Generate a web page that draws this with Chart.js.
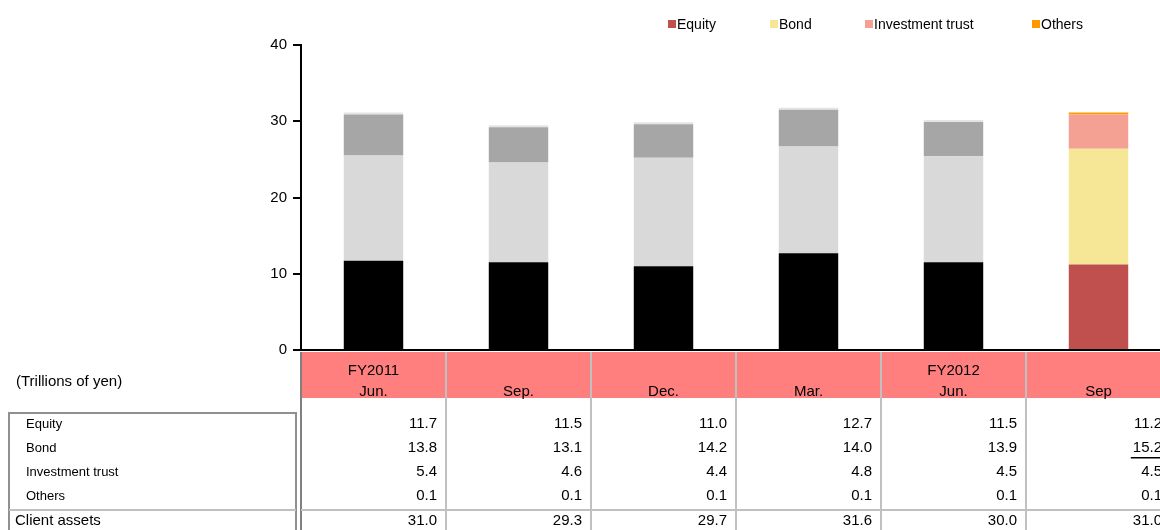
<!DOCTYPE html>
<html><head><meta charset="utf-8">
<script src="https://cdn.jsdelivr.net/npm/chart.js@4/dist/chart.umd.min.js"></script>
<style>html,body{margin:0;padding:0;background:#fff;overflow:hidden;width:1160px;height:530px}</style>
</head><body>
<canvas id="c" width="1180" height="530"></canvas>
<script>
const headerTop = ['FY2011','','','','FY2012',''];
const headerBottom = ['Jun.','Sep.','Dec.','Mar.','Jun.','Sep'];
const seriesNames = ['Equity','Bond','Investment trust','Others'];
const equity = [11.7,11.5,11.0,12.7,11.5,11.2];
const bond = [13.8,13.1,14.2,14.0,13.9,15.2];
const investmentTrust = [5.4,4.6,4.4,4.8,4.5,4.5];
const others = [0.1,0.1,0.1,0.1,0.1,0.1];
const clientAssets = [31.0,29.3,29.7,31.6,30.0,31.0];
const yTicks = [0,10,20,30,40];
const greyColors = ['#000000','#d9d9d9','#a6a6a6','#e4e4e4'];
const accentColors = ['#c0504d','#f6e797','#f4a193','#ff9900'];
const underlined = {bond:[5], total:[5]};

const FONT = '"Liberation Sans", Arial, sans-serif';
const seriesValues = [equity,bond,investmentTrust,others];
function colorsFor(i){ return headerBottom.map((_,k)=> k===headerBottom.length-1 ? accentColors[i] : greyColors[i]); }

const tablePlugin = {
  id:'tablePlugin',
  afterDraw(chart){
    const ctx = chart.ctx, x = chart.scales.x;
    const half = (x.getPixelForValue(1)-x.getPixelForValue(0))/2;
    ctx.save();
    // legend
    ctx.font = '14px '+FONT; ctx.textBaseline='middle'; ctx.textAlign='left';
    const legX = [668,770,865,1032];
    seriesNames.forEach((n,i)=>{
      ctx.fillStyle = accentColors[i]; ctx.fillRect(legX[i],20,8,8);
      ctx.fillStyle = '#000'; ctx.fillText(n, legX[i]+9, 25);
    });
    // header
    const hTop=352, hBot=398;
    headerBottom.forEach((lab,k)=>{
      const cx = x.getPixelForValue(k), l=cx-half, r=cx+half;
      ctx.fillStyle='#ff7f7f'; ctx.fillRect(l,hTop,r-l,hBot-hTop);
      ctx.fillStyle='#000'; ctx.font='15px '+FONT; ctx.textAlign='center';
      if(headerTop[k]) ctx.fillText(headerTop[k], cx, 371);
      ctx.fillText(lab, cx, 392);
    });
    // column separators
    ctx.strokeStyle='#c0c0c0'; ctx.lineWidth=2;
    for(let k=1;k<headerBottom.length;k++){
      const bx = x.getPixelForValue(k)-half;
      ctx.beginPath(); ctx.moveTo(bx,hTop); ctx.lineTo(bx,530); ctx.stroke();
    }
    // left border of data area
    const left0 = x.getPixelForValue(0)-half;
    ctx.strokeStyle='#808080'; ctx.lineWidth=2;
    ctx.beginPath(); ctx.moveTo(left0,hTop); ctx.lineTo(left0,530); ctx.stroke();
    // label box
    ctx.strokeStyle='#909090'; ctx.lineWidth=2;
    ctx.strokeRect(9,413,287,130);
    // double separator
    ctx.strokeStyle='#c0c0c0'; ctx.lineWidth=2;
    ctx.beginPath(); ctx.moveTo(9,510); ctx.lineTo(296,510); ctx.stroke();
    ctx.beginPath(); ctx.moveTo(left0,510); ctx.lineTo(1180,510); ctx.stroke();
    // text
    ctx.fillStyle='#000'; ctx.textAlign='left';
    ctx.font='15px '+FONT; ctx.fillText('(Trillions of yen)',16,382);
    const rowY=[424,448,472,496];
    ctx.font='13px '+FONT;
    seriesNames.forEach((n,i)=>ctx.fillText(n,26,rowY[i]));
    ctx.font='15px '+FONT; ctx.fillText('Client assets',15,521);
    ctx.textAlign='right';
    const rows=[equity,bond,investmentTrust,others];
    headerBottom.forEach((_,k)=>{
      const rx = x.getPixelForValue(k)+half-9;
      rows.forEach((arr,i)=>{
        const t = arr[k].toFixed(1);
        ctx.fillText(t, rx, rowY[i]);
        if(i===1 && underlined.bond.includes(k)){
          const w=ctx.measureText(t).width; ctx.fillRect(rx-w-2,rowY[i]+9,w+4,1.5);
        }
      });
      const t = clientAssets[k].toFixed(1);
      ctx.fillText(t, rx, 521);
      if(underlined.total.includes(k)){
        const w=ctx.measureText(t).width; ctx.fillRect(rx-w-2,521+9,w+4,1.5);
      }
    });
    ctx.restore();
  }
};

new Chart(document.getElementById('c'),{
  type:'bar',
  data:{
    labels: headerBottom,
    datasets: seriesNames.map((n,i)=>({
      label:n, data:seriesValues[i], backgroundColor:colorsFor(i),
      borderWidth:0, barPercentage:0.41, categoryPercentage:1.0, minBarLength:2
    }))
  },
  options:{
    responsive:false, animation:false,
    layout:{padding:{top:45,bottom:180,left:0,right:9}},
    plugins:{legend:{display:false},tooltip:{enabled:false}},
    scales:{
      x:{stacked:true, grid:{display:false}, ticks:{display:false},
         border:{display:true,color:'#000',width:2},
         afterFit:s=>{s.height=0;}},
      y:{stacked:true, min:0, max:40,
         afterBuildTicks:s=>{s.ticks=yTicks.map(v=>({value:v}));},
         grid:{drawOnChartArea:false, drawTicks:true, tickLength:8, color:'#000', lineWidth:2},
         border:{display:true,color:'#000',width:2},
         ticks:{color:'#000', padding:6, font:{family:FONT,size:15}},
         afterFit:s=>{s.width=301;}}
    }
  },
  plugins:[tablePlugin]
});
</script>
</body></html>
